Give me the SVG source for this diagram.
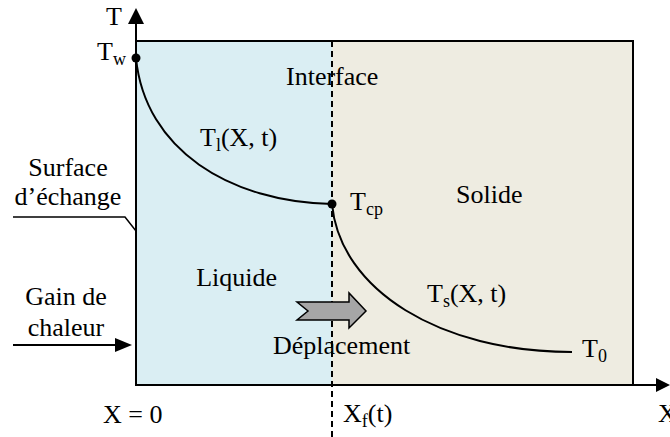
<svg xmlns="http://www.w3.org/2000/svg" width="670" height="437" viewBox="0 0 670 437" font-family="'Liberation Serif', 'DejaVu Serif', serif">
<style>
text{font-family:'Liberation Serif','DejaVu Serif',serif;font-size:26px;fill:#000}
.sub{font-size:18px}
.ln{stroke:#000;stroke-width:2;fill:none}
</style>
<g id="regions">
<rect x="136" y="41" width="196" height="344" fill="#DAEEF3"/>
<rect x="332" y="41" width="301" height="344" fill="#EEECE1"/>
<rect x="136" y="41" width="497" height="344" class="ln"/>
</g>
<g id="axes">
<line x1="136" y1="385" x2="136" y2="22" class="ln"/>
<path d="M136,8 L128,24 L144,24 Z" fill="#000"/>
<line x1="136" y1="385" x2="658" y2="385" class="ln"/>
<path d="M670,385 L656,378 L656,392 Z" fill="#000"/>
<text x="106" y="25">T</text>
<text x="658" y="422">X</text>
</g>
<g id="connectors">
<line x1="332" y1="41" x2="332" y2="437" stroke="#000" stroke-width="2" stroke-dasharray="6,4"/>
<path d="M136,58 C145,150 230,202 332,204" class="ln"/>
<path d="M332,204 C340,290 440,352 572,352" class="ln"/>
<path d="M13,217 L125,217 L136,231" stroke="#000" stroke-width="1.5" fill="none"/>
<line x1="13" y1="345" x2="118" y2="345" stroke="#000" stroke-width="2"/>
<path d="M132,345 L115,338 L115,352 Z" fill="#000"/>
</g>
<g id="tw">
<circle cx="136" cy="58" r="4.5" fill="#000"/>
<text x="97" y="60">T<tspan class="sub" dy="5">w</tspan></text>
</g>
<g id="tcp">
<circle cx="332" cy="204" r="4.5" fill="#000"/>
<text x="350" y="210">T<tspan class="sub" dy="5">cp</tspan></text>
</g>
<g id="interface"><text x="286" y="85">Interface</text></g>
<g id="tl"><text x="200" y="146">T<tspan class="sub" dy="5">l</tspan><tspan dy="-5">(X, t)</tspan></text></g>
<g id="solide"><text x="456" y="203">Solide</text></g>
<g id="liquide"><text x="277" y="286" text-anchor="end">Liquide</text></g>
<g id="ts"><text x="427" y="302">T<tspan class="sub" dy="5">s</tspan><tspan dy="-5">(X, t)</tspan></text></g>
<g id="t0"><text x="582" y="357">T<tspan class="sub" dy="5">0</tspan></text></g>
<g id="deplacement">
<path d="M297,302 L349,302 L349,293 L366,311 L349,328 L349,320 L297,320 L308,311 Z" fill="#A6A6A6" stroke="#000" stroke-width="1.5"/>
<text x="273" y="354">Déplacement</text>
</g>
<g id="surface">
<text x="68" y="176" text-anchor="middle">Surface</text>
<text x="68" y="205" text-anchor="middle">d’échange</text>
</g>
<g id="gain">
<text x="66" y="305" text-anchor="middle">Gain de</text>
<text x="66" y="336" text-anchor="middle">chaleur</text>
</g>
<g id="x0"><text x="103" y="423">X = 0</text></g>
<g id="xf"><text x="343" y="422">X<tspan class="sub" dy="5">f</tspan><tspan dy="-5">(t)</tspan></text></g>
</svg>
